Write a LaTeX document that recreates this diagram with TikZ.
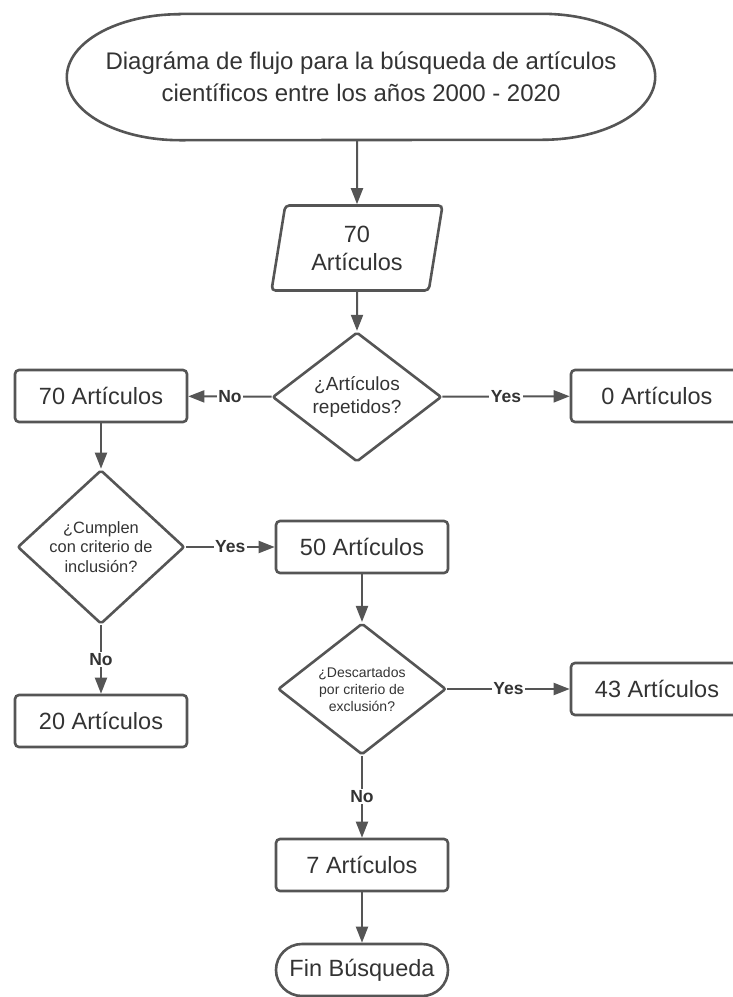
\documentclass[tikz,border=0pt]{standalone}
\usepackage{fontspec}
\setmainfont{Liberation Sans}
\usetikzlibrary{positioning,shapes.geometric,arrows.meta}
\definecolor{linegray}{HTML}{555555}
\definecolor{textgray}{HTML}{333333}

\begin{document}
\begin{tikzpicture}[x=1pt,y=1pt,>={Triangle[length=16pt,width=12pt]},
	box/.style={draw=linegray,line width=2.6pt,rectangle,rounded corners=4pt,minimum width=172pt,minimum height=52pt,text=textgray,font=\fontsize{23.5}{27}\selectfont},
	decision/.style={draw=linegray,line width=2.6pt,diamond,rounded corners=2pt,minimum width=168pt,minimum height=125pt,inner sep=0pt,align=center,text=textgray},
	inbox/.style={draw=linegray,line width=2.6pt,trapezium,trapezium left angle=75,trapezium right angle=105,trapezium stretches body,rounded corners=4pt,minimum width=171pt,minimum height=85pt,align=center,text=textgray,font=\fontsize{23.5}{28}\selectfont},
	flow/.style={draw=linegray,line width=2pt,->},
	answer/.style={fill=white,inner sep=1.5pt,text=textgray,font=\bfseries\fontsize{17.5}{20}\selectfont}
	]

	\useasboundingbox (0,0) rectangle (733,-997);
	\clip (0,0) rectangle (733,-997);

	\node[minimum width=588pt,minimum height=126pt,align=center,text=textgray,font=\fontsize{24}{32}\selectfont] (title) at (361,-77) {Diagráma de flujo para la búsqueda de artículos\\científicos entre los años 2000 - 2020};
	\draw[draw=linegray,line width=2.6pt] ([xshift=113pt]title.north west) -- ([xshift=-113pt]title.north east) arc[start angle=90,end angle=-90,x radius=113pt,y radius=63pt] -- ([xshift=113pt]title.south west) arc[start angle=270,end angle=90,x radius=113pt,y radius=63pt] -- cycle;

	\node[inbox] (in70) at (357,-248) {70\\Artículos};
	\node[decision,minimum width=169pt,font=\fontsize{19}{23}\selectfont] (rep) at (357,-397) {¿Artículos\\repetidos?};
	\node[box] (left70) at (101,-396) {70 Artículos};
	\node[box] (zero) at (657,-396) {0 Artículos};

	\node[decision,minimum width=167pt,font=\fontsize{16.4}{19.5}\selectfont] (incl) at (101,-547) {¿Cumplen\\con criterio de\\inclusión?};
	\node[box] (fifty) at (362,-547) {50 Artículos};
	\node[box] (twenty) at (101,-721) {20 Artículos};

	\node[decision,font=\fontsize{14}{17}\selectfont] (excl) at (362,-689) {¿Descartados\\por criterio de\\exclusión?};
	\node[box] (fortythree) at (657,-689) {43 Artículos};
	\node[box] (seven) at (362,-865) {7 Artículos};
	\node[box,rounded corners=26pt] (fin) at (362,-970) {Fin Búsqueda};

	\draw[flow] (in70 |- title.south) -- (in70);
	\draw[flow] (in70) -- (rep);
	\draw[flow] (rep) -- node[answer]{No} (left70);
	\draw[flow] (rep) -- node[answer]{Yes} (zero);
	\draw[flow] (left70) -- (incl);
	\draw[flow] (incl) -- node[answer]{Yes} (fifty);
	\draw[flow] (incl) -- node[answer]{No} (twenty);
	\draw[flow] (fifty) -- (excl);
	\draw[flow] (excl) -- node[answer]{Yes} (fortythree);
	\draw[flow] (excl) -- node[answer]{No} (seven);
	\draw[flow] (seven) -- (fin);

\end{tikzpicture}
\end{document}
